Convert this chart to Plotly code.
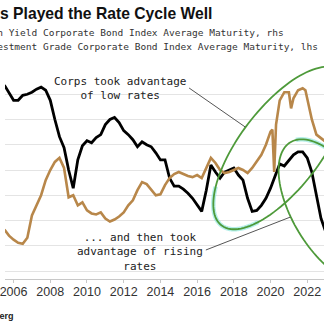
import numpy as np
import plotly.graph_objects as go

# Investment grade index average maturity (years, left axis)
ig_years = [2005.5, 2005.75, 2006.0, 2006.25, 2006.5, 2006.75, 2007.0, 2007.25, 2007.5, 2007.75,
            2008.0, 2008.25, 2008.5, 2008.75, 2009.0, 2009.25, 2009.5, 2009.75, 2010.0, 2010.25,
            2010.5, 2010.75, 2011.0, 2011.25, 2011.5, 2011.75, 2012.0, 2012.25, 2012.5, 2012.75,
            2013.0, 2013.25, 2013.5, 2013.75, 2014.0, 2014.25, 2014.5, 2014.75, 2015.0, 2015.25,
            2015.5, 2015.75, 2016.0, 2016.25, 2016.5, 2016.75, 2017.0, 2017.25, 2017.5, 2017.75,
            2018.0, 2018.25, 2018.5, 2018.75, 2019.0, 2019.25, 2019.5, 2019.75, 2020.0, 2020.25,
            2020.5, 2020.75, 2021.0, 2021.25, 2021.5, 2021.75, 2022.0, 2022.25, 2022.5, 2022.75,
            2023.0]
ig_maturity = [11.34, 11.27, 11.19, 11.19, 11.24, 11.25, 11.27, 11.30, 11.32, 11.29,
               11.19, 11.00, 10.83, 10.72, 10.50, 10.32, 10.60, 10.74, 10.79, 10.77,
               10.82, 10.85, 10.95, 11.00, 11.02, 10.97, 10.89, 10.85, 10.80, 10.73,
               10.78, 10.75, 10.73, 10.67, 10.60, 10.60, 10.42, 10.34, 10.34, 10.31,
               10.27, 10.22, 10.16, 10.09, 10.30, 10.55, 10.48, 10.42, 10.48, 10.50,
               10.52, 10.45, 10.40, 10.22, 10.09, 10.10, 10.15, 10.22, 10.32, 10.44,
               10.56, 10.54, 10.60, 10.65, 10.68, 10.68, 10.62, 10.48, 10.25, 10.02,
               9.89]

# High yield index average maturity (years, right axis)
hy_years = [2005.5, 2005.75, 2006.0, 2006.25, 2006.5, 2006.75, 2007.0, 2007.25, 2007.5, 2007.75,
            2008.0, 2008.25, 2008.5, 2008.75, 2009.0, 2009.25, 2009.5, 2009.75, 2010.0, 2010.25,
            2010.5, 2010.75, 2011.0, 2011.25, 2011.5, 2011.75, 2012.0, 2012.25, 2012.5, 2012.75,
            2013.0, 2013.25, 2013.5, 2013.75, 2014.0, 2014.25, 2014.5, 2014.75, 2015.0, 2015.25,
            2015.5, 2015.75, 2016.0, 2016.25, 2016.5, 2016.75, 2017.0, 2017.25, 2017.5, 2017.75,
            2018.0, 2018.25, 2018.5, 2018.75, 2019.0, 2019.25, 2019.5, 2019.75, 2020.0, 2020.1,
            2020.2, 2020.3, 2020.5, 2020.75, 2021.0, 2021.12, 2021.25, 2021.5, 2021.75, 2021.9,
            2022.0, 2022.25, 2022.5, 2022.75, 2023.0]
hy_maturity = [5.41, 5.35, 5.31, 5.28, 5.27, 5.33, 5.55, 5.65, 5.75, 5.90,
               6.00, 6.08, 6.12, 6.02, 5.73, 5.75, 5.65, 5.68, 5.60, 5.57,
               5.56, 5.58, 5.52, 5.49, 5.51, 5.54, 5.58, 5.65, 5.70, 5.80,
               5.88, 5.86, 5.80, 5.75, 5.76, 5.85, 5.92, 5.96, 5.98, 5.96,
               5.94, 5.93, 5.95, 5.92, 6.02, 6.12, 6.07, 6.00, 5.97, 5.98,
               6.00, 6.02, 6.00, 5.97, 6.02, 6.08, 6.15, 6.25, 6.38, 6.40,
               5.98, 6.45, 6.69, 6.77, 6.77, 6.61, 6.71, 6.79, 6.81, 6.79,
               6.71, 6.50, 6.35, 6.31, 6.28]

year_ticks = [2006, 2008, 2010, 2012, 2014, 2016, 2018, 2020, 2022]

W, H = 324, 325
M_T, M_B = 68, 46
PLOT_BOTTOM = H - M_B
PLOT_H = H - M_T - M_B


def to_paper(xpix, ypix):
    return xpix / W, (PLOT_BOTTOM - ypix) / PLOT_H


def ellipse_path(cx, cy, a, b, angle_deg, t0=0.0, t1=2 * np.pi, closed=True):
    th = np.radians(angle_deg)
    t = np.linspace(t0, t1, 120)
    ux, uy = np.cos(th), -np.sin(th)
    nx, ny = np.sin(th), np.cos(th)
    xs = cx + a * np.cos(t) * ux + b * np.sin(t) * nx
    ys = cy + a * np.cos(t) * uy + b * np.sin(t) * ny
    pts = [to_paper(x, y) for x, y in zip(xs, ys)]
    d = "M " + " L ".join(f"{x:.4f},{y:.4f}" for x, y in pts)
    return d + (" Z" if closed else "")


fig = go.Figure()

fig.add_trace(go.Scatter(
    x=hy_years, y=hy_maturity, yaxis="y2", mode="lines",
    line=dict(color="#b8874a", width=2.6), name="High Yield", hoverinfo="skip"))
fig.add_trace(go.Scatter(
    x=ig_years, y=ig_maturity, yaxis="y", mode="lines",
    line=dict(color="#000000", width=2.8), name="Investment Grade", hoverinfo="skip"))

shapes = []
# soft highlight under parts of the ovals
shapes.append(dict(type="path", xref="paper", yref="paper",
                   path=ellipse_path(280, 148, 98, 41, 52, 2.4, 3.9, closed=False),
                   line=dict(color="rgba(120,225,215,0.55)", width=4.5)))
shapes.append(dict(type="path", xref="paper", yref="paper",
                   path=ellipse_path(333, 212, 82, 40, -58, 3.3, 4.6, closed=False),
                   line=dict(color="rgba(120,225,215,0.55)", width=4.5)))
for cx, cy, a, b, ang in [(280, 148, 98, 41, 52), (333, 212, 82, 40, -58)]:
    shapes.append(dict(type="path", xref="paper", yref="paper",
                       path=ellipse_path(cx, cy, a, b, ang),
                       line=dict(color="#4e9a3a", width=1.8)))

# pointer lines from the notes to the ovals
for (x0, y0), (x1, y1) in [((187, 88), (244, 127)), ((204, 250), (290, 217))]:
    p0 = to_paper(x0, y0)
    p1 = to_paper(x1, y1)
    shapes.append(dict(type="line", xref="paper", yref="paper",
                       x0=p0[0], y0=p0[1], x1=p1[0], y1=p1[1],
                       line=dict(color="#555555", width=1)))

annotations = []


def note(text, xpix, ypix, size, family, xanchor="left", bold=False, color="#222222", align="left"):
    xp, yp = to_paper(xpix, ypix)
    annotations.append(dict(
        text=f"<b>{text}</b>" if bold else text, x=xp, y=yp, xref="paper", yref="paper",
        xanchor=xanchor, yanchor="middle", showarrow=False, align=align,
        font=dict(size=size, family=family, color=color)))


note("s Played the Rate Cycle Well", 212, 13, 15.7, "Liberation Sans", xanchor="right", bold=True, color="#111111")
note("High Yield Corporate Bond Index Average Maturity, rhs", 285, 32, 9.52, "DejaVu Sans Mono", xanchor="right", color="#333333")
note("Investment Grade Corporate Bond Index Average Maturity, lhs", 320, 46, 9.52, "DejaVu Sans Mono", xanchor="right", color="#333333")
note("Corps took advantage<br>of low rates", 117, 88, 11, "DejaVu Sans Mono", xanchor="center", align="center")
note("... and then took<br>advantage of rising<br>rates", 137, 252, 11, "DejaVu Sans Mono", xanchor="center", align="center")
note("Source: Bloomberg", 11, 316, 9, "Liberation Sans", xanchor="right", bold=True, color="#222222")

ig_lo, ig_hi = 9.5 - 8 / 101, 9.5 + 203 / 101
hy_lo, hy_hi = 5.0 - 8 / 101, 5.0 + 203 / 101

fig.update_layout(
    width=W, height=H,
    margin=dict(l=0, r=0, t=M_T, b=M_B, pad=0),
    paper_bgcolor="white", plot_bgcolor="white",
    showlegend=False,
    shapes=shapes,
    annotations=annotations,
    xaxis=dict(range=[2005.533, 2022.913], tickmode="array", tickvals=year_ticks,
               ticktext=[str(y) for y in year_ticks], showgrid=False, zeroline=False,
               showline=True, linecolor="#c8c8c8", linewidth=1,
               ticks="outside", ticklen=3, tickcolor="#c8c8c8",
               ticklabeloverflow="allow", ticklabelstandoff=-2,
               tickfont=dict(size=12.5, family="Liberation Sans", color="#333333")),
    yaxis=dict(range=[ig_lo, ig_hi], tickmode="array",
               tickvals=[9.5, 9.75, 10.0, 10.25, 10.5, 10.75, 11.0, 11.25, 11.5],
               showticklabels=False, showgrid=True, gridcolor="#e4e4e4", gridwidth=1,
               zeroline=False, showline=False, ticks=""),
    yaxis2=dict(range=[hy_lo, hy_hi], overlaying="y", side="right",
                showticklabels=False, showgrid=False, zeroline=False, showline=False, ticks=""),
)

fig.write_html("out.html", config={"displayModeBar": False})
